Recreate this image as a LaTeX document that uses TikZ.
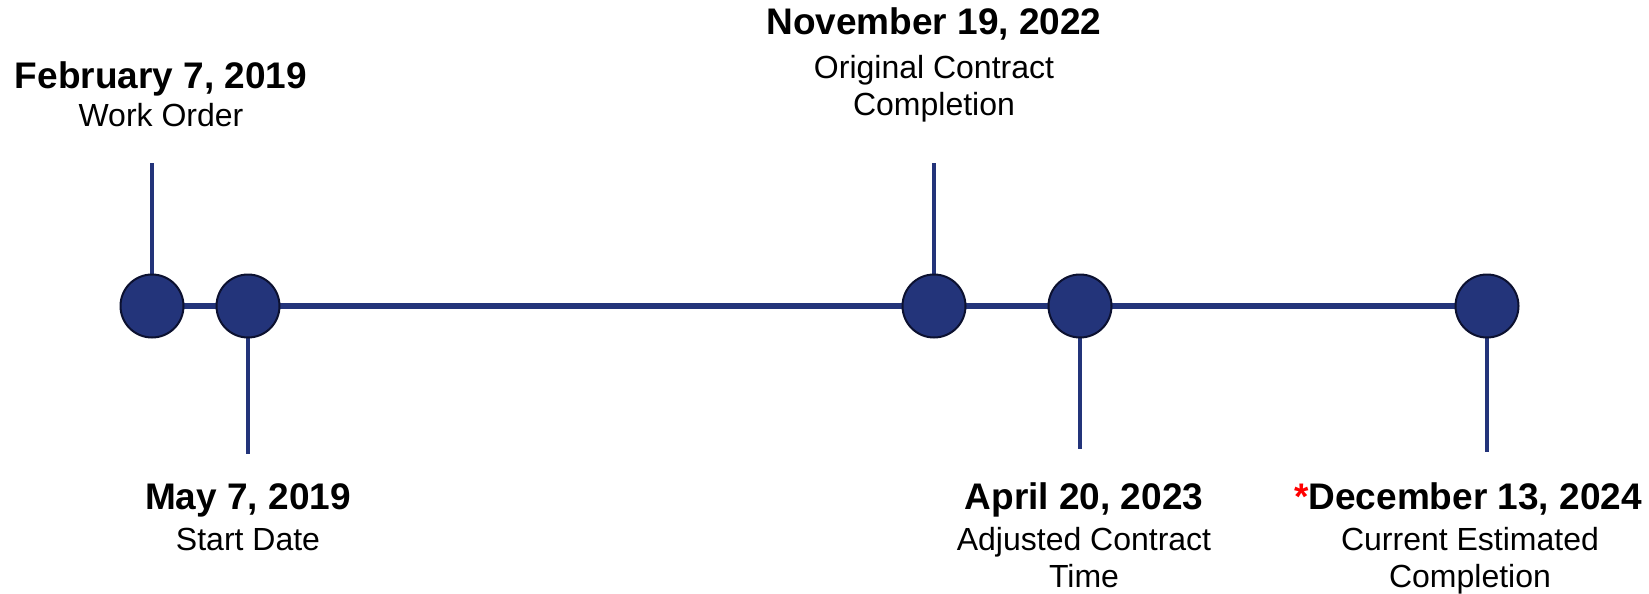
\documentclass[tikz,border=0pt]{standalone}
\usepackage{fontspec}
\setmainfont{Liberation Sans}
\usetikzlibrary{positioning}
\definecolor{tlnavy}{RGB}{35,52,122}
\definecolor{tledge}{RGB}{12,17,48}
\tikzset{
    milestone/.style={circle,draw=tledge,line width=1pt,fill=tlnavy,minimum size=31.5pt,inner sep=0pt},
    mainline/.style={draw=tlnavy,line width=2.7pt},
    stem/.style={draw=tlnavy,line width=2pt},
    datelbl/.style={anchor=base,inner sep=0pt,font=\bfseries\fontsize{18.5}{22}\selectfont},
    desclbl/.style={anchor=base,inner sep=0pt,align=center,font=\fontsize{16}{18.5}\selectfont}
}

\begin{document}
\begin{tikzpicture}[x=0.5pt,y=-0.5pt]
        \useasboundingbox (0,0) rectangle (1649,594);

        % stem ends
        \coordinate (top1) at (152,163);
        \coordinate (bot2) at (248,454);
        \coordinate (top3) at (934,163);
        \coordinate (bot4) at (1080,449);
        \coordinate (bot5) at (1487,452);

        \begin{scope}
            \draw[stem] (top1) -- (152,306);
            \draw[stem] (top3) -- (934,306);
            \draw[stem] (248,306) -- (bot2);
            \draw[stem] (1080,306) -- (bot4);
            \draw[stem] (1487,306) -- (bot5);
            \draw[mainline] (152,306) -- (1487,306);
        \end{scope}

        \node[milestone] (ms1) at (152,306) {};
        \node[milestone] (ms2) at (248,306) {};
        \node[milestone] (ms3) at (934,306) {};
        \node[milestone] (ms4) at (1080,306) {};
        \node[milestone] (ms5) at (1487,306) {};

        % labels (multi-line notes sit on their last baseline)
        \node[datelbl] (date1) at (161,88) {February 7, 2019};
        \node[desclbl] (note1) at (161,126) {Work Order};
        \node[datelbl] (date3) at (934,34) {November 19, 2022};
        \node[desclbl] (note3) at (934,115) {Original Contract\\Completion};
        \node[datelbl] (date2) at (248,509) {May 7, 2019};
        \node[desclbl] (note2) at (248,550) {Start Date};
        \node[datelbl] (date4) at (1084,509) {April 20, 2023};
        \node[desclbl] (note4) at (1084,587) {Adjusted Contract\\Time};
        \node[datelbl] (date5) at (1468,509) {\textcolor{red}{*}December 13, 2024};
        \node[desclbl] (note5) at (1470,587) {Current Estimated\\Completion};
    \end{tikzpicture}
\end{document}
